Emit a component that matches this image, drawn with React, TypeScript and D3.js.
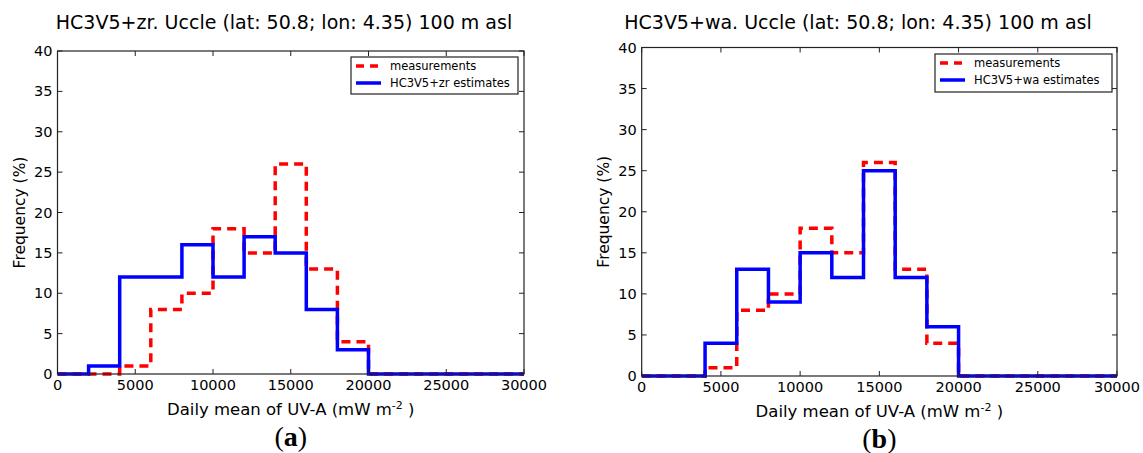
import React from 'react'
import * as d3 from 'd3'

// histogram bin edges (mW m-2)
const binEdges = [0, 2000, 4000, 6000, 8000, 10000, 12000, 14000, 16000, 18000, 20000, 22000, 24000, 26000, 28000, 30000]

// frequencies (%) per bin
const measurements = [0, 0, 1, 8, 10, 18, 15, 26, 13, 4, 0, 0, 0, 0, 0]
const zrEstimates = [0, 1, 12, 12, 16, 12, 17, 15, 8, 3, 0, 0, 0, 0, 0]
const waEstimates = [0, 0, 4, 13, 9, 15, 12, 25, 12, 6, 0, 0, 0, 0, 0]

const xTicks = [0, 5000, 10000, 15000, 20000, 25000, 30000]
const yTicks = [0, 5, 10, 15, 20, 25, 30, 35, 40]

const FONT = 'DejaVu Sans, sans-serif'

type PanelProps = {
  title: string
  estimates: number[]
  estLabel: string
  letter: string
  left: number
  right: number
  top: number
  bottom: number
  titleX: number
  legend: { x: number, y: number, w: number, h: number }
}

const stepPoints = (vals: number[]): [number, number][] => {
  const pts: [number, number][] = vals.map((v, i) => [binEdges[i], v])
  pts.push([binEdges[binEdges.length - 1], vals[vals.length - 1]])
  return pts
}

const Panel = ({ title, estimates, estLabel, letter, left, right, top, bottom, titleX, legend }: PanelProps) => {
  const x = d3.scaleLinear().domain([0, 30000]).range([left, right])
  const y = d3.scaleLinear().domain([0, 40]).range([bottom, top])
  const line = d3.line<[number, number]>()
    .x(d => x(d[0]))
    .y(d => y(d[1]))
    .curve(d3.curveStepAfter)
  const cx = (left + right) / 2
  const tk = 5

  return (
    <g>
      <text x={titleX} y={29} textAnchor="middle" fontFamily={FONT} fontSize={19}>{title}</text>

      <path d={line(stepPoints(measurements)) || ''} fill="none" stroke="#ff0000" strokeWidth={3.5} strokeDasharray="9,6" />
      <path d={line(stepPoints(estimates)) || ''} fill="none" stroke="#0000ff" strokeWidth={3.5} />

      <rect x={left} y={top} width={right - left} height={bottom - top} fill="none" stroke="#222" strokeWidth={1.2} />

      {xTicks.map(t => (
        <g key={'x' + t}>
          <line x1={x(t)} x2={x(t)} y1={bottom} y2={bottom - tk} stroke="#222" />
          <line x1={x(t)} x2={x(t)} y1={top} y2={top + tk} stroke="#222" />
          <text x={x(t)} y={bottom + 16} textAnchor="middle" fontFamily={FONT} fontSize={14.5}>{t}</text>
        </g>
      ))}
      {yTicks.map(t => (
        <g key={'y' + t}>
          <line x1={left} x2={left + tk} y1={y(t)} y2={y(t)} stroke="#222" />
          <line x1={right} x2={right - tk} y1={y(t)} y2={y(t)} stroke="#222" />
          <text x={left - 5} y={y(t) + 5} textAnchor="end" fontFamily={FONT} fontSize={14.5}>{t}</text>
        </g>
      ))}

      <text x={cx} y={bottom + 41} textAnchor="middle" fontFamily={FONT} fontSize={16.5}>
        Daily mean of UV-A (mW m<tspan dy={-6} fontSize={11}>-2</tspan><tspan dy={6}> )</tspan>
      </text>
      <text transform={`translate(${left - 33},${(top + bottom) / 2}) rotate(-90)`} textAnchor="middle" fontFamily={FONT} fontSize={15.5}>Frequency (%)</text>

      <text x={cx} y={bottom + 72} textAnchor="middle" fontFamily="Liberation Serif, serif" fontSize={28}>
        (<tspan fontWeight="bold">{letter}</tspan>)
      </text>

      <rect x={legend.x} y={legend.y} width={legend.w} height={legend.h} fill="#fff" stroke="#222" strokeWidth={1.2} />
      <line x1={legend.x + 5} x2={legend.x + 30} y1={legend.y + 9} y2={legend.y + 9} stroke="#ff0000" strokeWidth={3.5} strokeDasharray="8,6" />
      <text x={legend.x + 39} y={legend.y + 13} fontFamily={FONT} fontSize={11.5}>measurements</text>
      <line x1={legend.x + 5} x2={legend.x + 30} y1={legend.y + 26} y2={legend.y + 26} stroke="#0000ff" strokeWidth={3.5} />
      <text x={legend.x + 39} y={legend.y + 30} fontFamily={FONT} fontSize={11.5}>{estLabel}</text>
    </g>
  )
}

export default function App() {
  return (
    <svg width={1143} height={453} style={{ position: 'absolute', left: 0, top: 0, background: '#fff' }}>
      <rect width={1143} height={453} fill="#fff" />
      <Panel
        title="HC3V5+zr. Uccle (lat: 50.8; lon: 4.35) 100 m asl"
        estimates={zrEstimates}
        estLabel="HC3V5+zr estimates"
        letter="a"
        left={57.5} right={524} top={51} bottom={374}
        titleX={284}
        legend={{ x: 351, y: 57, w: 167, h: 37 }}
      />
      <Panel
        title="HC3V5+wa. Uccle (lat: 50.8; lon: 4.35) 100 m asl"
        estimates={waEstimates}
        estLabel="HC3V5+wa estimates"
        letter="b"
        left={641.7} right={1117} top={47.5} bottom={376}
        titleX={858}
        legend={{ x: 935, y: 54, w: 177, h: 38 }}
      />
    </svg>
  )
}
